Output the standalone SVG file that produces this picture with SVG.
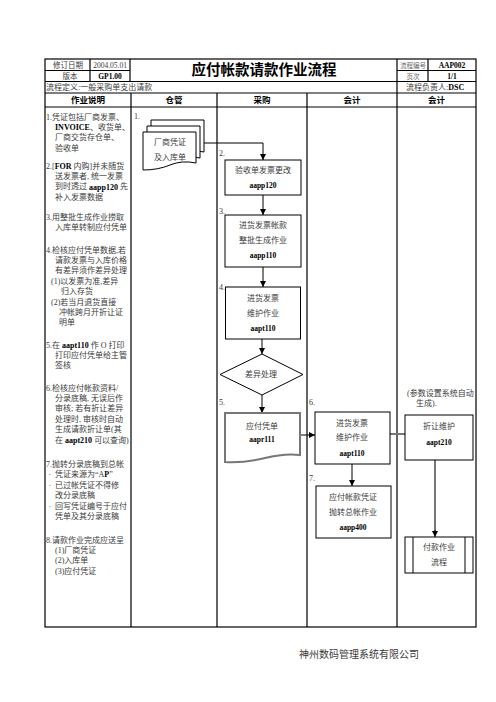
<svg xmlns="http://www.w3.org/2000/svg" width="496" height="702" viewBox="0 0 496 702">
<style>
text{font-family:"Liberation Serif","Noto Sans CJK SC",serif;fill:#3a3a3a;dominant-baseline:central}
.s8{font-size:8px}
.s7{font-size:7.5px}
.s6{font-size:6.5px;fill:#666}
.c{text-anchor:middle}
.b{font-weight:bold;fill:#000}
.code{font-size:7.5px;font-weight:bold;fill:#000;text-anchor:middle}
.ttl{font-size:14.5px;font-weight:bold;fill:#000;text-anchor:middle}
.hd{font-size:8.5px;font-weight:bold;fill:#000;text-anchor:middle}
.grid{stroke:#000;stroke-width:1.2;fill:none}
.box{fill:#fff;stroke:#000;stroke-width:1}
.conn{stroke:#000;stroke-width:1;fill:none}
.gconn{stroke:#777;stroke-width:2;fill:none}
</style>
<defs>
<marker id="ah" viewBox="0 0 10 10" refX="10" refY="5" markerWidth="6" markerHeight="6" markerUnits="userSpaceOnUse" orient="auto"><path d="M0,0 L10,5 L0,10 z" fill="#000"/></marker>
</defs>
<rect width="496" height="702" fill="#fff"/>

<g id="table">
<rect class="grid" x="45" y="59" width="431" height="568"/>
<path class="grid" d="M45,70.5 H130 M397,70.5 H476 M45,81.5 H476 M45,93 H476 M45,107 H476 M90,59 V81.5 M130,59 V81.5 M397,59 V93 M428,59 V81.5 M131,93 V627 M217,93 V627 M307,93 V627 M397,93 V627"/>
<text class="s7 c" x="68" y="65">修订日期</text>
<text class="s7 c" x="110" y="65">2004.05.01</text>
<text class="s7 c" x="70" y="76">版本</text>
<text class="s7 c b" x="110" y="76">GP1.00</text>
<text class="ttl" x="264" y="70">应付帐款请款作业流程</text>
<text class="s6 c" x="413" y="65">流程编号</text>
<text class="s7 c b" x="452" y="65">AAP002</text>
<text class="s6 c" x="413" y="76">页次</text>
<text class="s7 c b" x="452" y="76">1/1</text>
<text class="s8" x="46" y="87">流程定义:一般采购单支出请款</text>
<text class="s8" x="406" y="87">流程负责人:<tspan class="b">DSC</tspan></text>
<text class="hd" x="88" y="100">作业说明</text>
<text class="hd" x="174" y="100">仓管</text>
<text class="hd" x="262" y="100">采购</text>
<text class="hd" x="352" y="100">会计</text>
<text class="hd" x="436.5" y="100">会计</text>
</g>

<g id="notes">
<text class="s8" x="46" y="117">1.凭证包括厂商发票、</text>
<text class="s8" x="55" y="127.4"><tspan class="b">INVOICE</tspan>、收货单、</text>
<text class="s8" x="55" y="137.8">厂商交货存仓单、</text>
<text class="s8" x="55" y="148.2">验收单</text>
<text class="s8" x="46" y="166">2.[<tspan class="b">FOR</tspan> 内购]并未随货</text>
<text class="s8" x="55" y="176.4">送发票者, 统一发票</text>
<text class="s8" x="55" y="186.8">到时透过 <tspan class="b">aapp120</tspan> 先</text>
<text class="s8" x="55" y="197.2">补入发票数据</text>
<text class="s8" x="46" y="217">3.用整批生成作业捞取</text>
<text class="s8" x="55" y="227.4">入库单转制应付凭单</text>
<text class="s8" x="46" y="250">4.检核应付凭单数据,若</text>
<text class="s8" x="55" y="260.4">请款发票与入库价格</text>
<text class="s8" x="55" y="270.8">有差异须作差异处理</text>
<text class="s8" x="51" y="281.2">(1)以发票为准,差异</text>
<text class="s8" x="61" y="291.6">归入存货</text>
<text class="s8" x="51" y="302">(2)若当月退货直接</text>
<text class="s8" x="59" y="312.4">冲帐跨月开折让证</text>
<text class="s8" x="59" y="322.8">明单</text>
<text class="s8" x="46" y="345">5.在 <tspan class="b">aapt110</tspan> 作 O 打印</text>
<text class="s8" x="55" y="355.4">打印应付凭单给主管</text>
<text class="s8" x="55" y="365.8">签核</text>
<text class="s8" x="46" y="388">6.检核应付帐款资料/</text>
<text class="s8" x="55" y="398.4">分录底稿, 无误后作</text>
<text class="s8" x="55" y="408.8">审核; 若有折让差异</text>
<text class="s8" x="55" y="419.2">处理时, 审核时自动</text>
<text class="s8" x="55" y="429.6">生成请款折让单(其</text>
<text class="s8" x="55" y="440">在 <tspan class="b">aapt210</tspan> 可以查询)</text>
<text class="s8" x="46" y="464">7.抛转分录底稿到总帐</text>
<text class="s8" y="474.4"><tspan x="48.5">·</tspan><tspan x="55">凭证来源为“A<tspan class="b">P</tspan>”</tspan></text>
<text class="s8" y="484.8"><tspan x="48.5">·</tspan><tspan x="55">已过帐凭证不得修</tspan></text>
<text class="s8" x="55" y="495.2">改分录底稿</text>
<text class="s8" y="505.6"><tspan x="48.5">·</tspan><tspan x="55">回写凭证编号于应付</tspan></text>
<text class="s8" x="55" y="516">凭单及其分录底稿</text>
<text class="s8" x="46" y="540">8.请款作业完成应送呈</text>
<text class="s8" x="55" y="550.4">(1)厂商凭证</text>
<text class="s8" x="55" y="560.8">(2)入库单</text>
<text class="s8" x="55" y="571.2">(3)应付凭证</text>
</g>

<g id="steps">
<text class="s8" x="134" y="116">1.</text>
<text class="s8" x="219" y="153">2.</text>
<text class="s8" x="219" y="211">3.</text>
<text class="s8" x="219" y="287">4.</text>
<text class="s8" x="219" y="402">5.</text>
<text class="s8" x="309" y="402">6.</text>
<text class="s8" x="309" y="478">7.</text>
<text class="s8" x="407" y="393">(参数设置系统自动</text>
<text class="s8" x="416" y="403">生成).</text>
</g>

<g id="connectors">
<path class="conn" d="M204,143 H263 V160" marker-end="url(#ah)"/>
<path class="conn" d="M263,195 V215" marker-end="url(#ah)"/>
<path class="conn" d="M263,267 V287" marker-end="url(#ah)"/>
<path class="conn" d="M262,339 V354" marker-end="url(#ah)"/>
<path class="conn" d="M262,395 V413" marker-end="url(#ah)"/>
<path class="conn" d="M300,435 H315" marker-end="url(#ah)"/>
<path class="gconn" d="M390,434 H405"/>
<path class="conn" d="M352,464 V486" marker-end="url(#ah)"/>
<path class="gconn" d="M435,460 V532"/>
<path class="conn" d="M435,530 V537" marker-end="url(#ah)"/>
</g>

<g id="n1">
<path class="box" d="M151,120 H204 V152 Q190,149 178,153 T151,158 Z"/>
<path class="box" d="M147,126 H200 V158 Q186,155 174,159 T147,164 Z"/>
<path class="box" d="M143,132 H196 V163 Q182,160 170,165 T143,170 Z"/>
<text class="s8 c" x="170" y="142">厂商凭证</text>
<text class="s8 c" x="170" y="157">及入库单</text>
</g>

<g id="n2">
<rect class="box" x="225" y="160" width="76" height="35"/>
<text class="s8 c" x="263" y="170">验收单发票更改</text>
<text class="code" x="263" y="185">aapp120</text>
</g>

<g id="n3">
<rect class="box" x="225" y="215" width="76" height="52"/>
<text class="s8 c" x="263" y="225">进货发票帐款</text>
<text class="s8 c" x="263" y="240">整批生成作业</text>
<text class="code" x="263" y="255">aapp110</text>
</g>

<g id="n4">
<rect class="box" x="225.5" y="287" width="75" height="52"/>
<text class="s8 c" x="263" y="298">进货发票</text>
<text class="s8 c" x="263" y="313">维护作业</text>
<text class="code" x="263" y="328">aapt110</text>
</g>

<g id="n5">
<path class="box" d="M262,354 L303,374.5 L262,395 L220,374.5 Z"/>
<text class="s8 c" x="261" y="374.5">差异处理</text>
</g>

<g id="n6">
<path d="M225,413 H300 V455 Q285,453 265,458 T225,462 Z" fill="#fff" stroke="#777" stroke-width="2"/>
<text class="s8 c" x="262" y="426">应付凭单</text>
<text class="code" x="262" y="439">aapr111</text>
</g>

<g id="n7">
<rect class="box" x="315" y="412" width="75" height="52"/>
<text class="s8 c" x="352" y="423">进货发票</text>
<text class="s8 c" x="352" y="437">维护作业</text>
<text class="code" x="352" y="453">aapt110</text>
</g>

<g id="n8">
<rect class="box" x="405" y="415" width="68" height="45"/>
<text class="s8 c" x="439" y="426">折让维护</text>
<text class="code" x="439" y="442">aapt210</text>
</g>

<g id="n9">
<rect class="box" x="316" y="486" width="75" height="52"/>
<text class="s8 c" x="353" y="497">应付帐款凭证</text>
<text class="s8 c" x="353" y="512">抛转总帐作业</text>
<text class="code" x="353" y="527">aapp400</text>
</g>

<g id="n10">
<rect class="box" x="405" y="537" width="68" height="36"/>
<path class="conn" d="M413,537 V573 M465,537 V573"/>
<text class="s8 c" x="439" y="547">付款作业</text>
<text class="s8 c" x="439" y="562">流程</text>
</g>

<text x="359" y="654" style="font-size:10px;text-anchor:middle">神州数码管理系统有限公司</text>
</svg>
